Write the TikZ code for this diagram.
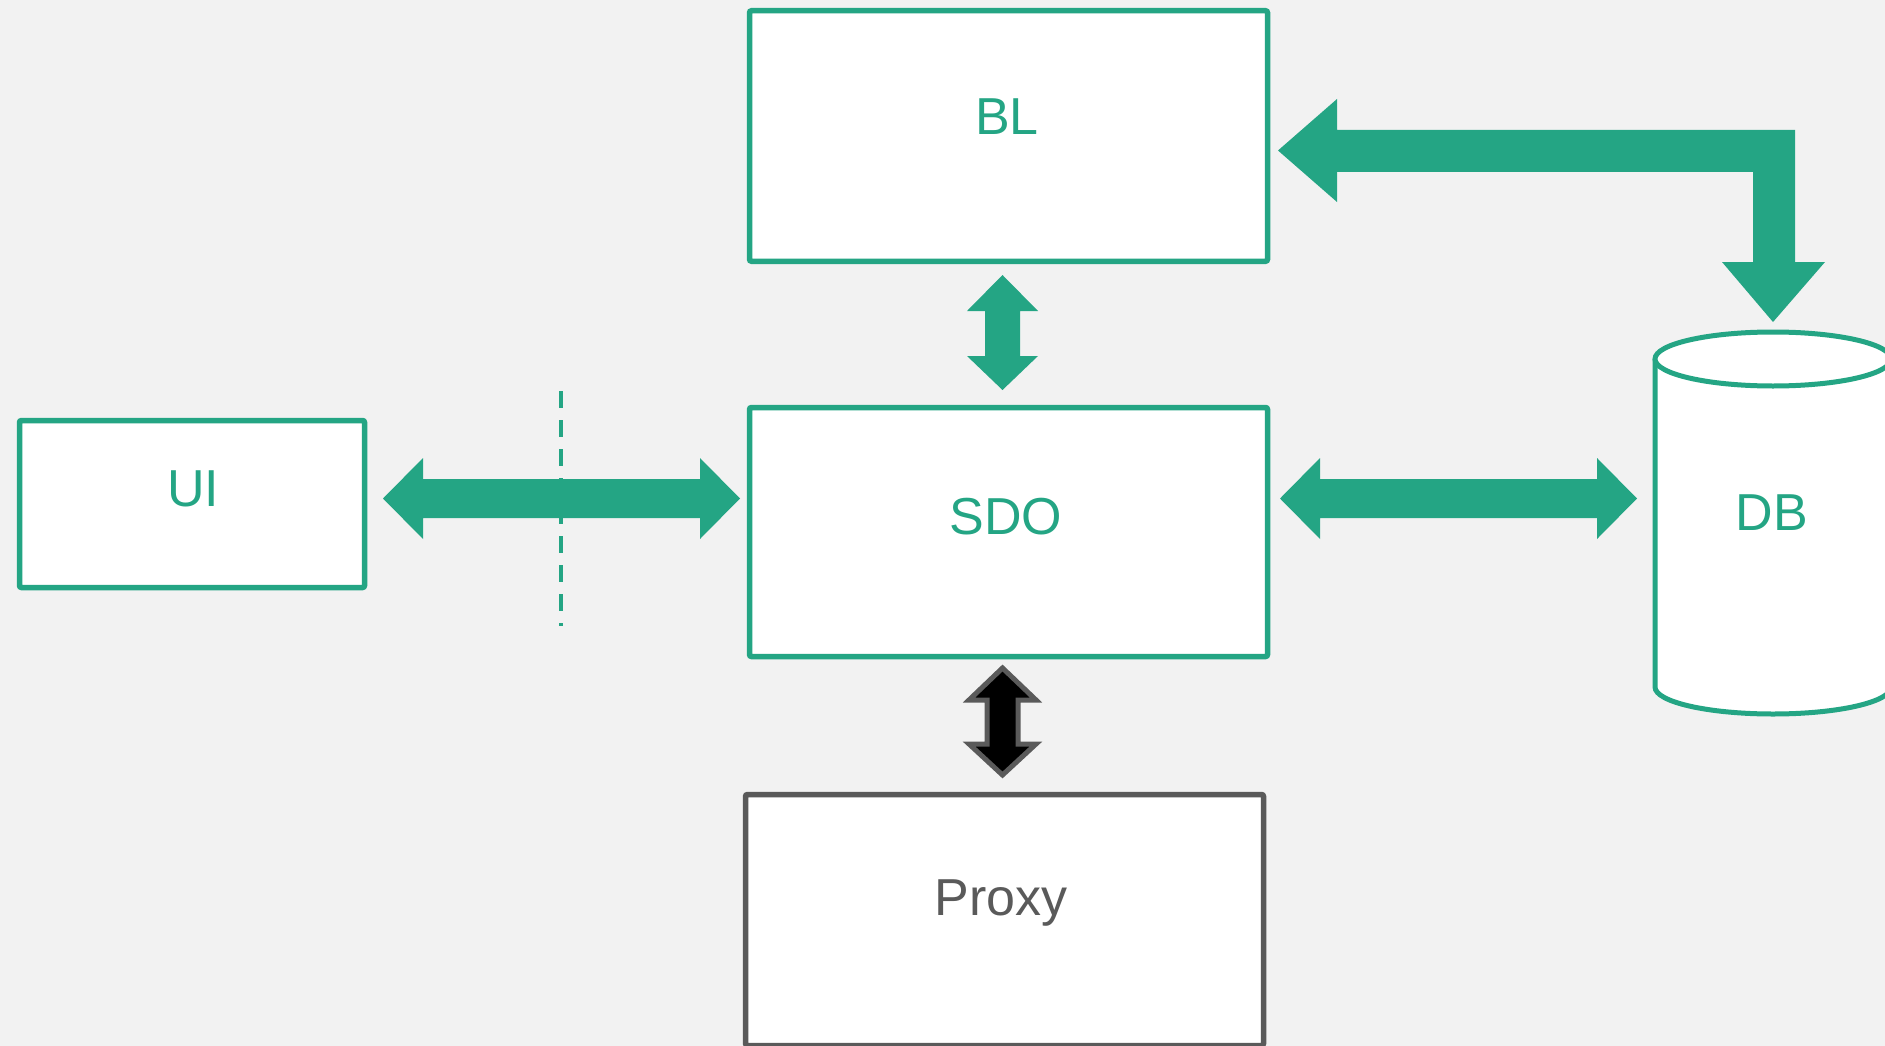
\documentclass[tikz,border=0pt]{standalone}
\usepackage{fontspec}
\setmainfont{Liberation Sans}
\definecolor{grn}{RGB}{36,165,132}
\definecolor{gry}{RGB}{90,90,90}
\definecolor{bgc}{RGB}{242,242,242}
\begin{document}
\begin{tikzpicture}[x=1pt,y=-1pt,
  box/.style={draw=grn, fill=white, line width=5.5pt, rounded corners=2pt, inner sep=0pt, outer sep=0pt},
  gbox/.style={box, draw=gry},
  lbl/.style={anchor=base, inner sep=0pt, font=\fontsize{52}{60}\selectfont, text=grn},
  glbl/.style={lbl, text=gry},
  blockarrow/.style={fill=grn, draw=none},
  blackarrow/.style={fill=black, draw=gry, line width=5pt, line join=miter},
  cyl/.style={draw=grn, fill=white, line width=5pt}]
\fill[bgc] (0,0) rectangle (1885,1046);
\useasboundingbox (0,0) rectangle (1885,1046);

% boxes
\node[box, minimum width=518pt, minimum height=250.5pt] (bl) at (1008.5,136) {};
\node[box, minimum width=518pt, minimum height=249pt] (sdo) at (1008.5,532) {};
\node[box, minimum width=345pt, minimum height=167pt] (ui) at (192,504) {};
\node[gbox, minimum width=518pt, minimum height=251pt] (proxy) at (1004.5,920) {};

% database cylinder
\path[cyl] (1655,359) -- (1655,687) arc[start angle=180, end angle=0, x radius=118, y radius=27] -- (1891,359);
\draw[cyl] (1773,359) ellipse [x radius=118, y radius=27];
\coordinate (db) at (1773,520);

% labels
\node[lbl] (bltxt) at (1007,135) {BL};
\node[lbl] (sdotxt) at (1006,534) {SDO};
\node[lbl] (uitxt) at (193,506) {UI};
\node[glbl] (pxtxt) at (1001,915) {Proxy};
\node[lbl] (dbtxt) at (1772,530) {DB};

% dashed boundary
\coordinate (dtop) at (561,391);
\coordinate (dbot) at (561,626);
\draw[grn, line width=4pt, dash pattern=on 17pt off 12pt] (dtop) -- (dbot);

% UI <-> SDO
\fill[blockarrow] (383,498.5) -- (423,458) -- (423,479) -- (700,479) -- (700,458) -- (740,498.5)
  -- (700,539) -- (700,518) -- (423,518) -- (423,539) -- cycle;

% SDO <-> DB
\fill[blockarrow] (1280,498.5) -- (1320,458) -- (1320,479) -- (1597,479) -- (1597,458) -- (1637,498.5)
  -- (1597,539) -- (1597,518) -- (1320,518) -- (1320,539) -- cycle;

% BL <-> SDO
\fill[blockarrow] (1002.5,275) -- (1038,311) -- (1020,311) -- (1020,356) -- (1038,356) -- (1002.5,390)
  -- (967,356) -- (985,356) -- (985,311) -- (967,311) -- cycle;

% SDO <-> Proxy
\draw[blackarrow] (1002.5,668) -- (1036,700) -- (1018,700) -- (1018,744) -- (1036,744) -- (1002.5,775)
  -- (969,744) -- (987,744) -- (987,700) -- (969,700) -- cycle;

% BL <-> DB elbow
\fill[blockarrow] (1278,150.5) -- (1337,99) -- (1337,130) -- (1795,130) -- (1795,262) -- (1825,262)
  -- (1773,322) -- (1722,262) -- (1753,262) -- (1753,172) -- (1337,172) -- (1337,202) -- cycle;
\end{tikzpicture}
\end{document}
